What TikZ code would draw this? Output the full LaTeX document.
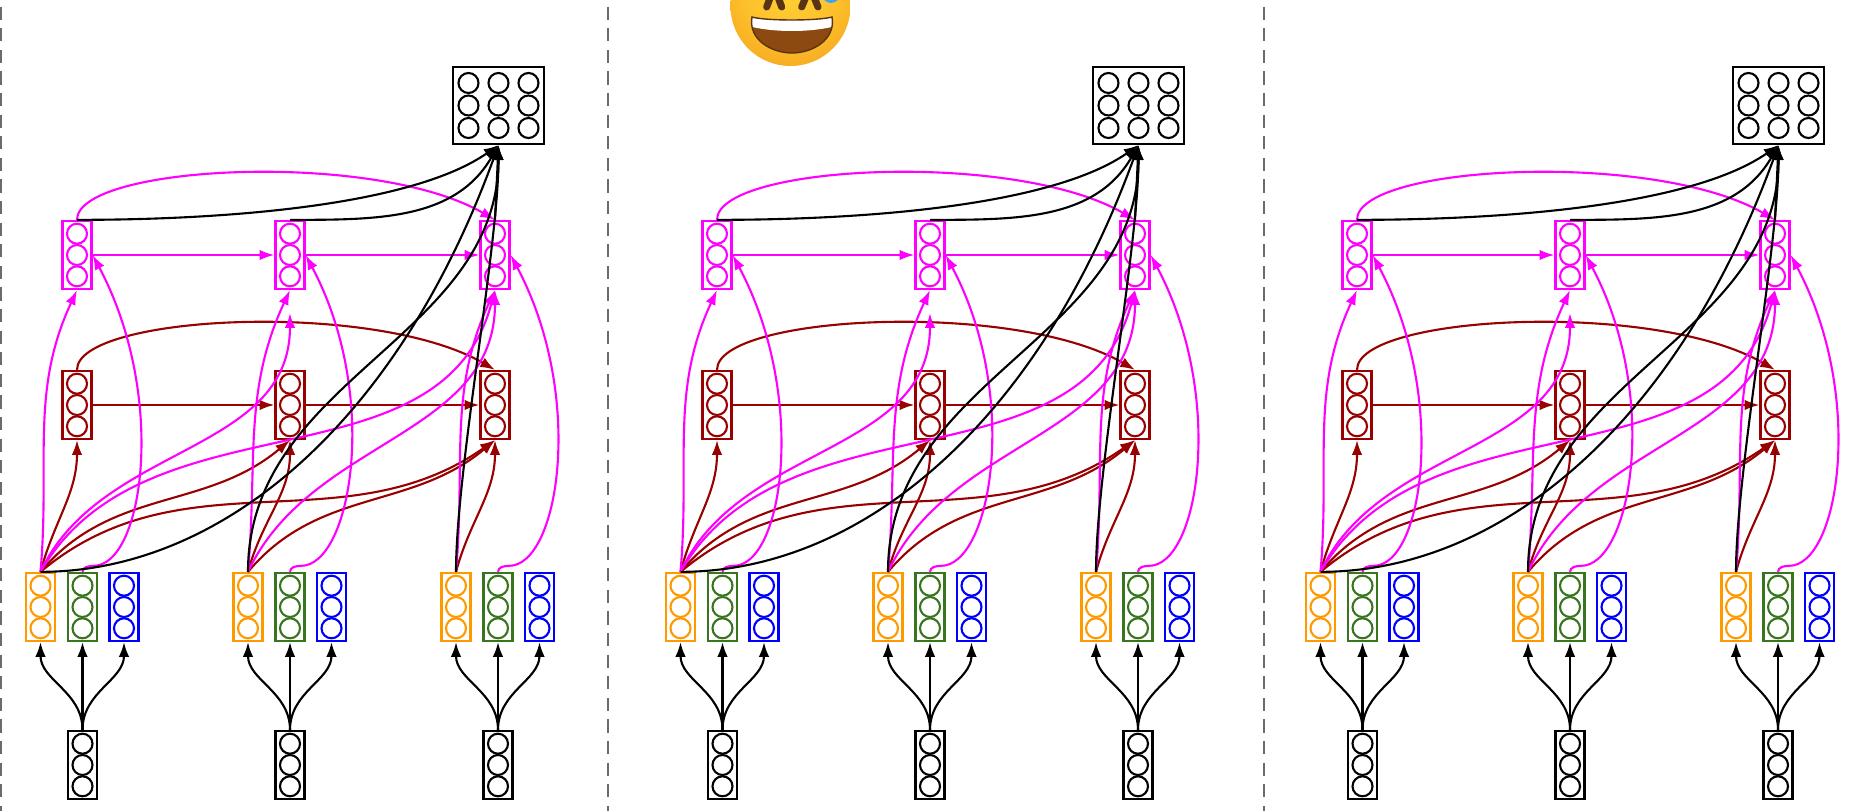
\documentclass[tikz,border=0pt]{standalone}
\usepackage{tikz}
\usetikzlibrary{arrows.meta,positioning}

\definecolor{vorange}{HTML}{FF9900}
\definecolor{vgreen}{HTML}{38761D}
\definecolor{vblue}{HTML}{0000FF}
\definecolor{vred}{HTML}{990000}
\definecolor{vpink}{HTML}{FF00FF}
\definecolor{sepgray}{HTML}{6B6B6B}
\definecolor{facehi}{HTML}{FFD83A}
\definecolor{facemid}{HTML}{FCBE2A}
\definecolor{facelo}{HTML}{F2961C}
\definecolor{faceedge}{HTML}{DD7810}
\definecolor{mouthbrown}{HTML}{8C4A10}
\definecolor{eyebrown}{HTML}{5A3412}
\definecolor{dropblue}{HTML}{3AA6EE}

\pgfdeclareradialshading{emojiface}{\pgfpoint{0bp}{14bp}}{%
  color(0bp)=(facehi); color(22bp)=(facemid); color(42bp)=(facelo); color(50bp)=(faceedge)}

\tikzset{
  % column of three units
  vec/.style={draw=#1, line width=0.65pt, inner sep=0pt,
    minimum width=0.29cm, minimum height=0.68cm,
    path picture={
      \foreach \k in {-1,0,1}
        \draw[#1, line width=0.6pt] ([yshift=\k*0.213cm]path picture bounding box.center) circle (0.1cm);
    }},
  % 3x3 block of units
  block/.style={draw, line width=0.65pt, inner sep=0pt,
    minimum width=0.91cm, minimum height=0.77cm,
    path picture={
      \foreach \i in {-1,0,1}
        \foreach \j in {-1,0,1}
          \draw[line width=0.6pt] ([shift={(\i*0.3cm,\j*0.225cm)}]path picture bounding box.center) circle (0.1cm);
    }},
  sepline/.style={sepgray, line width=0.75pt, dash pattern=on 0.133cm off 0.083cm, dash phase=0.15cm},
}

\begin{document}
\begin{tikzpicture}[on grid, line width=0.6pt, >={Latex[length=4.2pt,width=3pt]}]
\useasboundingbox (0,0) rectangle (18.65,8.11);
\clip (0,0) rectangle (18.65,8.11);

% separators
\foreach \s in {0.01,6.08,12.64}
  \draw[sepline] (\s,8.11) -- (\s,0);

% the grinning face, cut by the top edge
\shade[shading=emojiface] (7.905,8.05) circle (0.6);
\path[fill=mouthbrown, draw=eyebrown, line width=0.4pt,
      path picture={\fill[white] (7.45,8.0) -- (7.45,7.86) .. controls (7.7,7.78) and (8.14,7.78) .. (8.39,7.86) -- (8.39,8.0) -- cycle;}]
  (7.52,7.94) .. controls (7.65,7.90) and (8.18,7.90) .. (8.32,7.94)
  .. controls (8.36,7.71) and (8.12,7.58) .. (7.92,7.58)
  .. controls (7.72,7.58) and (7.48,7.71) .. (7.52,7.94) -- cycle;
\draw[eyebrown, line width=2pt, line cap=round, line join=round] (7.667,8.04) -- (7.742,8.24) -- (7.817,8.04);
\draw[eyebrown, line width=2pt, line cap=round, line join=round] (8.017,8.04) -- (8.10,8.24) -- (8.18,8.04);
\fill[dropblue] (8.31,8.17) circle (0.09);

\foreach \p/\sx in {1/0,2/6.4,3/12.8} {
\begin{scope}[xshift=\sx cm]
  % inputs and their three encodings
  \foreach \i/\x in {1/0.825,2/2.90,3/4.98} {
    \node[vec=black] (x\p\i) at (\x,0.46) {};
    \node[vec=vgreen] (g\p\i) [above=1.58 of x\p\i] {};
    \node[vec=vorange] (o\p\i) [left=0.42 of g\p\i] {};
    \node[vec=vblue] (b\p\i) [right=0.415 of g\p\i] {};
    \draw[->] (x\p\i.north) to[out=90,in=-90] (o\p\i.south);
    \draw[->] (x\p\i) -- (g\p\i);
    \draw[->] (x\p\i.north) to[out=90,in=-90] (b\p\i.south);
  }
  % hidden rows
  \foreach \i/\x in {1/0.77,2/2.90,3/4.95} {
    \node[vec=vred] (r\p\i) at (\x,4.06) {};
    \node[vec=vpink] (m\p\i) [above=1.5 of r\p\i] {};
  }
  \node[block] (y\p) at (4.985,7.055) {};
  \coordinate (h\p) at ([yshift=-0.23cm]m\p2.south);

  % red row
  \begin{scope}[vred]
    \draw[->] (r\p1) -- (r\p2);
    \draw[->] (r\p2) -- (r\p3);
    \draw[->] (r\p1.north) .. controls +(0,0.55) and +(150:1.4) .. (r\p3.north);
    \foreach \i in {1,2,3}
      \draw[->] (o\p\i.north) to[out=75,in=-90] (r\p\i.south);
    \draw[->] (o\p1.north) to[out=50,in=-140] (r\p2.south);
    \draw[->] (o\p2.north) to[out=50,in=-140] (r\p3.south);
    \draw[->] (o\p1.north) to[out=40,in=-145] (r\p3.south);
  \end{scope}

  % pink row
  \begin{scope}[vpink]
    \draw[->] (m\p1) -- (m\p2);
    \draw[->] (m\p2) -- (m\p3);
    \draw[->] (m\p1.north) .. controls +(0,0.55) and +(150:1.4) .. (m\p3.north);
    \foreach \i in {1,2,3} {
      \draw[->] (o\p\i.north) to[out=85,in=-115] (m\p\i.south);
      \draw[->] (g\p\i.north) to[out=90,in=180] +(0.11,0.06)
        .. controls +(0.5,0) and +(-62:1.6) .. (m\p\i.east);
    }
    \draw[->] (o\p1.north) to[out=65,in=-90] (h\p);
    \draw[->] (o\p2.north) to[out=65,in=-90] (m\p3.south);
    \draw[->] (o\p1.north) to[out=60,in=-105] (m\p3.south);
  \end{scope}

  % into the output block
  \draw[->] (m\p1.north) to[out=0,in=-145,in looseness=0.6] (y\p.south);
  \draw[->] (m\p2.north) to[out=0,in=-120] (y\p.south);
  \draw[->] (m\p3.north) -- (y\p.south);
  \draw[->] (o\p1.north) to[out=0,in=-110,out looseness=0.75,in looseness=1.2] (y\p.south);
  \draw[->] (o\p2.north) to[out=90,in=-90] (y\p.south);
  \draw[->] (o\p3.north) to[out=90,in=-90,looseness=0.6] (y\p.south);
\end{scope}
}
\end{tikzpicture}
\end{document}
